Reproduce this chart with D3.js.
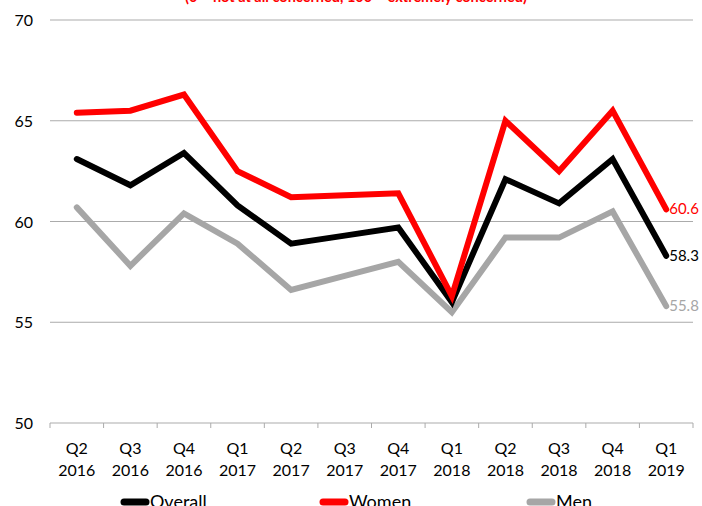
<!DOCTYPE html>
<html><head><meta charset="utf-8">
<script src="https://cdn.jsdelivr.net/npm/d3@7"></script>
<style>body{margin:0;background:#fff}svg{display:block}text{font-family:Lato,"Open Sans",sans-serif}</style>
</head><body>
<svg id="c" width="702" height="506"></svg>
<script>
const quarters = ["Q2","Q3","Q4","Q1","Q2","Q3","Q4","Q1","Q2","Q3","Q4","Q1"];
const years = ["2016","2016","2016","2017","2017","2017","2017","2018","2018","2018","2018","2019"];
const overall = [63.1,61.8,63.4,60.8,58.9,59.3,59.7,56.0,62.1,60.9,63.1,58.3];
const women = [65.4,65.5,66.3,62.5,61.2,61.3,61.4,56.3,65.0,62.5,65.5,60.6];
const men = [60.7,57.8,60.4,58.9,56.6,57.3,58.0,55.5,59.2,59.2,60.5,55.8];
const yTicks = [50,55,60,65,70];
const title = "(0 = not at all concerned, 100 = extremely concerned)";

const svg = d3.select("#c");
const cats = quarters.map((q,i)=>i);
const x = d3.scaleBand().domain(cats).range([50,693]);
const y = d3.scaleLinear().domain([50,70]).range([423,20]);

// title (cut off at top)
svg.append("text").attr("x",356).attr("y",2).attr("text-anchor","middle")
  .attr("fill","#ff0000").attr("font-weight","bold").attr("font-size",14.5).text(title);

// gridlines
svg.append("g").selectAll("line").data(yTicks.slice(1)).join("line")
  .attr("x1",50).attr("x2",693).attr("y1",d=>y(d)).attr("y2",d=>y(d))
  .attr("stroke","#ababab").attr("stroke-width",1);

// y labels
svg.append("g").selectAll("text").data(yTicks).join("text")
  .attr("x",33).attr("y",d=>y(d)+6).attr("text-anchor","end")
  .attr("font-size",16).attr("fill","#000").text(d=>d);

// x axis
const xa = svg.append("g").attr("transform","translate(0,"+y(50)+")");
xa.append("line").attr("x1",50).attr("x2",693).attr("stroke","#ababab");
xa.selectAll("line.t").data(d3.range(13)).join("line").attr("class","t")
  .attr("x1",d=>50+d*x.step()).attr("x2",d=>50+d*x.step()).attr("y1",0).attr("y2",5)
  .attr("stroke","#ababab");
const xl = xa.selectAll("text").data(cats).join("text")
  .attr("text-anchor","middle").attr("font-size",16).attr("fill","#000");
xl.append("tspan").attr("x",d=>x(d)+x.bandwidth()/2).attr("y",31).text(d=>quarters[d]);
xl.append("tspan").attr("x",d=>x(d)+x.bandwidth()/2).attr("y",53).text(d=>years[d]);

const series = [
  {name:"Overall", vals:overall, color:"#000000"},
  {name:"Women", vals:women, color:"#ff0000"},
  {name:"Men", vals:men, color:"#a6a6a6"}
];
const line = d3.line().x((d,i)=>x(i)+x.bandwidth()/2).y(d=>y(d));
const drawOrder = [series[2], series[0], series[1]];
svg.append("g").selectAll("path").data(drawOrder).join("path")
  .attr("d",d=>line(d.vals)).attr("fill","none").attr("stroke",d=>d.color)
  .attr("stroke-width",6).attr("stroke-linejoin","miter").attr("stroke-linecap","round");

// end labels
svg.append("g").selectAll("text").data(series).join("text")
  .attr("x",x(11)+x.bandwidth()/2+3).attr("y",d=>y(d.vals[11])+5)
  .attr("font-size",15).attr("fill",d=>d.color).text(d=>d.vals[11].toFixed(1));

// legend
const lx = [121,320,527];
const lg = svg.append("g").selectAll("g").data(series).join("g")
  .attr("transform",(d,i)=>"translate("+lx[i]+",502)");
lg.append("line").attr("x1",3).attr("x2",25).attr("stroke",d=>d.color)
  .attr("stroke-width",7).attr("stroke-linecap","round");
lg.append("text").attr("x",29).attr("y",6).attr("font-size",18).attr("fill","#000").text(d=>d.name);
</script>
</body></html>
